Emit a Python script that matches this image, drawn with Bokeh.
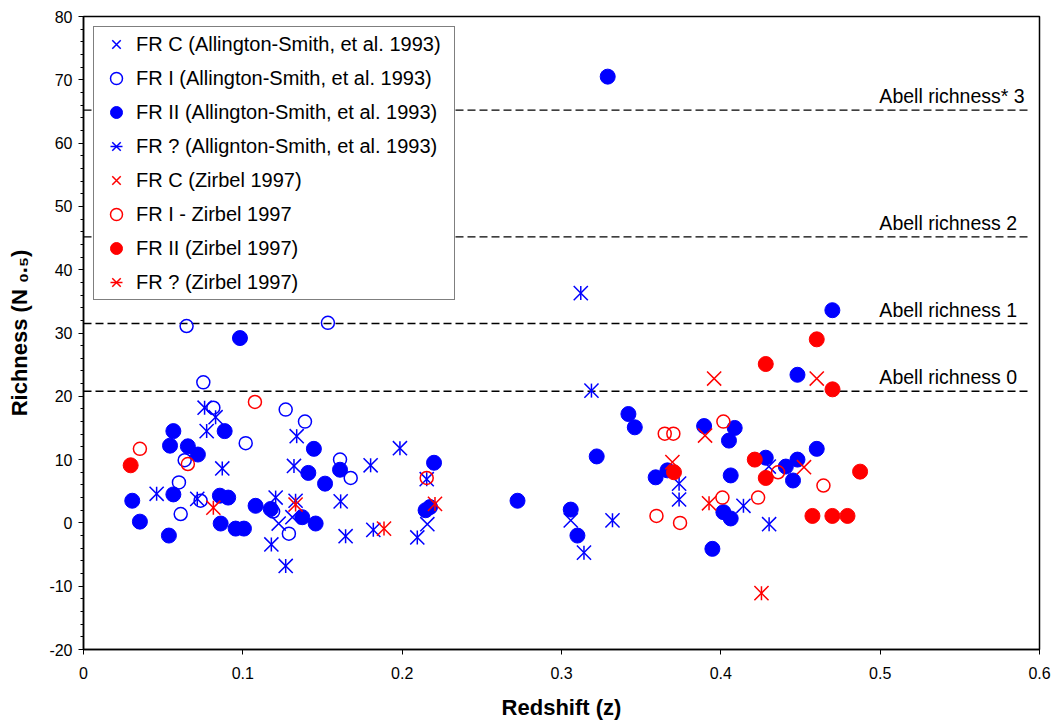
import math
from bokeh.plotting import figure
from bokeh.models import Range1d, FixedTicker, Legend, LegendItem
from bokeh.core.properties import value
from bokeh.embed import file_html
from bokeh.resources import INLINE

FONT = "Liberation Sans"
BLUE = "#0000FF"
RED = "#FF0000"

# --- Allington-Smith et al. 1993 ---------------------------------------
as_frc_z = [0.1311, 0.1225, 0.2158, 0.3058, 0.4301]
as_frc_n = [0.9, -0.1, -0.2, 0.4, 8.9]

as_fr1_z = [0.0647, 0.0752, 0.0815, 0.1269, 0.1390, 0.1018, 0.0635, 0.1610,
            0.1677, 0.0599, 0.0735, 0.0610, 0.1190, 0.1289, 0.1534]
as_fr1_n = [31.1, 22.2, 18.2, 17.9, 16.0, 12.6, 9.9, 10.0,
            7.1, 6.4, 3.5, 1.4, 1.8, -1.7, 31.6]

as_fr2_z = [0.0982, 0.0886, 0.0564, 0.0543, 0.0655, 0.0718, 0.0564, 0.0306,
            0.0856, 0.0908, 0.0354, 0.0861, 0.0955, 0.1007, 0.0536, 0.1080,
            0.1175, 0.1373, 0.1457, 0.1446, 0.1610, 0.1411, 0.1516, 0.2200,
            0.2147, 0.2175, 0.2724, 0.3058, 0.3100, 0.3290, 0.3420, 0.3460,
            0.3221, 0.3591, 0.3665, 0.3895, 0.4087, 0.4051, 0.4062, 0.4016,
            0.4062, 0.3947, 0.4700, 0.4481, 0.4602, 0.4282, 0.4408, 0.4481,
            0.4453]
as_fr2_n = [29.2, 14.5, 14.5, 12.2, 12.1, 10.8, 4.5, 3.5,
            4.3, 4.0, 0.2, -0.1, -0.9, -0.9, -2.0, 2.7,
            2.2, 0.9, -0.1, 11.7, 8.4, 7.9, 6.2, 9.5,
            2.0, 2.5, 3.5, 2.1, -2.0, 70.5, 17.2, 15.1,
            10.5, 7.2, 8.3, 15.3, 15.0, 13.0, 7.5, 1.7,
            0.7, -4.1, 33.6, 23.4, 11.7, 10.3, 8.9, 10.0,
            6.7]

as_frq_z = [0.0760, 0.0829, 0.0773, 0.0871, 0.0459, 0.0714, 0.1206, 0.1338,
            0.1321, 0.1802, 0.1986, 0.2154, 0.1614, 0.1331, 0.1179, 0.1269,
            0.1645, 0.1819, 0.2095, 0.3121, 0.3188, 0.3141, 0.3320, 0.3738,
            0.3738, 0.4142, 0.4303]
as_frq_n = [18.2, 16.7, 14.5, 8.6, 4.6, 3.8, 4.0, 13.7,
            9.0, 9.1, 11.8, 6.9, 3.4, 3.5, -3.4, -6.8,
            -2.1, -1.1, -2.3, 36.3, 20.9, -4.7, 0.4, 6.2,
            3.7, 2.7, -0.2]

# --- Zirbel 1997 -------------------------------------------------------
zb_frc_z = [0.3958, 0.4602, 0.3901, 0.3696, 0.4522]
zb_frc_n = [22.8, 22.8, 13.8, 9.6, 8.8]

zb_fr1_z = [0.1076, 0.0354, 0.0655, 0.2154, 0.3648, 0.3702, 0.4016, 0.3596,
            0.3744, 0.4010, 0.4234, 0.4359, 0.4644]
zb_fr1_n = [19.1, 11.7, 9.3, 7.1, 14.1, 14.1, 16.0, 1.1,
            0.0, 4.0, 4.0, 8.0, 5.9]

zb_fr2_z = [0.0296, 0.3706, 0.4213, 0.4282, 0.4282, 0.4602, 0.4701, 0.4874,
            0.4575, 0.4700, 0.4795]
zb_fr2_n = [9.1, 8.0, 10.0, 7.1, 25.1, 29.0, 21.1, 8.1,
            1.1, 1.1, 1.1]

zb_frq_z = [0.0815, 0.1331, 0.1886, 0.2206, 0.3926, 0.4255]
zb_frq_n = [2.4, 2.9, -0.9, 3.0, 3.1, -11.1]

# --- Abell richness reference levels ------------------------------------
abell_levels = [20.8, 31.5, 45.2, 65.2]
abell_labels = ["Abell richness 0", "Abell richness 1",
                "Abell richness 2", "Abell richness* 3"]

x_ticks = [0, 0.1, 0.2, 0.3, 0.4, 0.5, 0.6]
y_ticks = [-20, -10, 0, 10, 20, 30, 40, 50, 60, 70, 80]

p = figure(width=1053, height=723, output_backend="svg", toolbar_location=None,
           x_range=Range1d(0, 0.6), y_range=Range1d(-20, 80),
           min_border_left=83, min_border_right=14, min_border_top=16,
           min_border_bottom=74)
p.background_fill_color = "white"
p.border_fill_color = "white"
p.outline_line_color = "black"
p.outline_line_width = 1.5
p.xgrid.visible = False
p.ygrid.visible = False

# axes
p.xaxis.ticker = FixedTicker(ticks=x_ticks)
p.xaxis.major_label_overrides = {0: "0"}
p.yaxis.ticker = FixedTicker(ticks=y_ticks, minor_ticks=list(range(-20, 81, 2)))
p.yaxis.major_label_overrides = {t: str(t) for t in y_ticks}
for ax in (p.xaxis[0], p.yaxis[0]):
    ax.axis_line_color = "black"
    ax.axis_line_width = 1.5
    ax.major_tick_line_color = "black"
    ax.major_tick_in = 0
    ax.major_tick_out = 5
    ax.minor_tick_in = 0
    ax.minor_tick_out = 3
    ax.minor_tick_line_color = "black"
    ax.major_label_text_font = FONT
    ax.major_label_text_font_size = "16px"
    ax.major_label_text_color = "black"
    ax.major_label_standoff = 6
    ax.axis_label_text_font = FONT
    ax.axis_label_text_font_size = "22px"
    ax.axis_label_text_font_style = "bold"
    ax.axis_label_text_color = "black"
p.xaxis.minor_tick_line_color = None
p.xaxis.major_label_standoff = 12
p.xaxis.axis_label = "Redshift (z)"
p.xaxis.axis_label_standoff = 13
p.yaxis.axis_label = "Richness (N \u2080.\u2085)"
p.yaxis.axis_label_standoff = 14

# Abell richness dashed levels
n = len(abell_levels)
p.segment(x0=[0] * n, x1=[0.595] * n, y0=abell_levels, y1=abell_levels,
          line_color="black", line_width=1.3, line_dash="8 4")
p.text(x=[0.4995] * n, y=abell_levels, text=abell_labels, text_font=value(FONT),
       text_font_size=value("19.5px"), text_color="black", text_align="left",
       text_baseline="alphabetic", y_offset=-14)

XS = 20   # size of the "x" marker
VS = 14   # length of the vertical bar of the asterisk


def crosses(z, nv, color):
    return p.scatter(z, nv, marker="x", size=XS, line_color=color, line_width=1.5)


def opens(z, nv, color):
    return p.scatter(z, nv, marker="circle", size=13, line_color=color,
                     fill_color=None, line_width=1.5)


def fills(z, nv, color):
    return p.scatter(z, nv, marker="circle", size=15, line_color=color,
                     fill_color=color, line_width=1)


def stars(z, nv, color):
    a = p.scatter(z, nv, marker="x", size=XS, line_color=color, line_width=1.5)
    b = p.scatter(z, nv, marker="dash", angle=math.pi / 2, size=VS,
                  line_color=color, line_width=1.5)
    return [a, b]


items = [
    LegendItem(label="FR C (Allington-Smith, et al. 1993)",
               renderers=[crosses(as_frc_z, as_frc_n, BLUE)]),
    LegendItem(label="FR I (Allington-Smith, et al. 1993)",
               renderers=[opens(as_fr1_z, as_fr1_n, BLUE)]),
    LegendItem(label="FR II (Allington-Smith, et al. 1993)",
               renderers=[fills(as_fr2_z, as_fr2_n, BLUE)]),
    LegendItem(label="FR ? (Allignton-Smith, et al. 1993)",
               renderers=stars(as_frq_z, as_frq_n, BLUE)),
    LegendItem(label="FR C (Zirbel 1997)",
               renderers=[crosses(zb_frc_z, zb_frc_n, RED)]),
    LegendItem(label="FR I - Zirbel 1997",
               renderers=[opens(zb_fr1_z, zb_fr1_n, RED)]),
    LegendItem(label="FR II (Zirbel 1997)",
               renderers=[fills(zb_fr2_z, zb_fr2_n, RED)]),
    LegendItem(label="FR ? (Zirbel 1997)",
               renderers=stars(zb_frq_z, zb_frq_n, RED)),
]

legend = Legend(items=items, location="top_left", margin=10, padding=2,
                spacing=4, glyph_height=30, glyph_width=40, label_height=30,
                label_standoff=0, label_width=316,
                label_text_font=FONT, label_text_font_size="20px",
                label_text_color="black",
                border_line_color="black", border_line_width=1,
                background_fill_color="white", background_fill_alpha=1.0)
p.add_layout(legend)

open("out.html", "w").write(file_html(p, INLINE))
